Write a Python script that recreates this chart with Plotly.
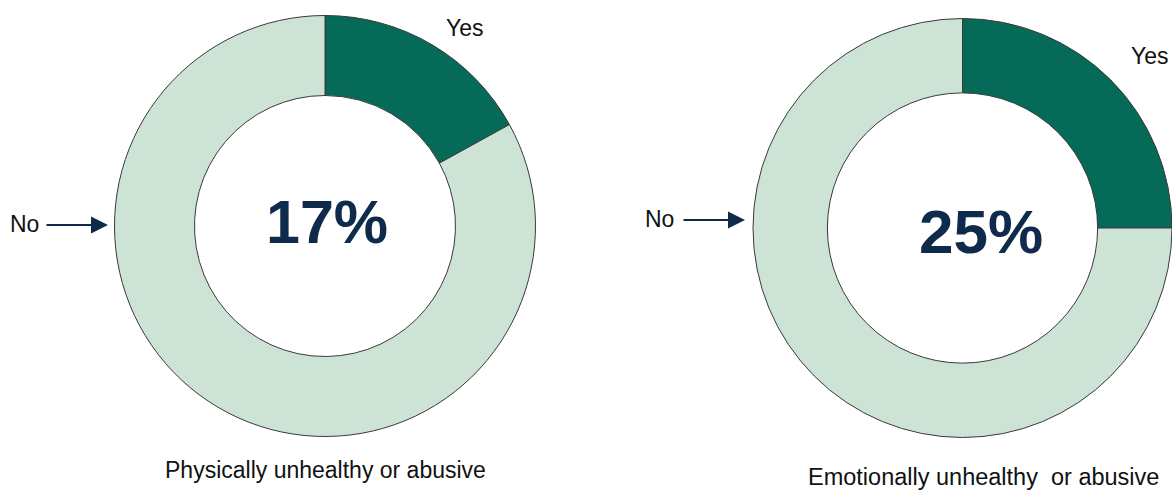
import plotly.graph_objects as go

W, H = 1172, 491

# Data
categories = ["Yes", "No"]
physical_values = [17, 83]
emotional_values = [25, 75]
chart_titles = ["Physically unhealthy or abusive", "Emotionally unhealthy  or abusive"]
center_labels = ["17%", "25%"]

DARK = "#066a58"
LIGHT = "#cce3d6"
NAVY = "#0f2b4c"
FONT = "Arial, Liberation Sans, sans-serif"


def px_x(x):
    return x / W


def px_y(y):
    return 1 - y / H


fig = go.Figure()

fig.add_trace(go.Pie(
    labels=categories, values=physical_values, sort=False, direction="clockwise",
    rotation=0, hole=0.62, textinfo="none", hoverinfo="label+percent",
    marker=dict(colors=[DARK, LIGHT], line=dict(color="#3a3a3a", width=1)),
    domain=dict(x=[(325 - 210.5) / W, (325 + 210.5) / W],
                y=[(265 - 210.5) / H, (265 + 210.5) / H]),
    showlegend=False,
))

fig.add_trace(go.Pie(
    labels=categories, values=emotional_values, sort=False, direction="clockwise",
    rotation=0, hole=0.645, textinfo="none", hoverinfo="label+percent",
    marker=dict(colors=[DARK, LIGHT], line=dict(color="#3a3a3a", width=1)),
    domain=dict(x=[753 / W, 1.0], y=[(263 - 214) / H, (263 + 214) / H]),
    showlegend=False,
))

annotations = [
    # center percentages
    dict(x=px_x(327), y=px_y(222), text=f"<b>{center_labels[0]}</b>",
         font=dict(size=61, color=NAVY, family=FONT)),
    dict(x=px_x(981), y=px_y(231), text=f"<b>{center_labels[1]}</b>",
         font=dict(size=62, color=NAVY, family=FONT)),
    # Yes labels
    dict(x=px_x(465), y=px_y(28), text=categories[0],
         font=dict(size=23, color="#111111", family=FONT)),
    dict(x=px_x(1171), y=px_y(56), text=categories[0], xanchor="right",
         font=dict(size=23, color="#111111", family=FONT)),
    # No labels
    dict(x=px_x(24.5), y=px_y(224), text=categories[1],
         font=dict(size=23, color="#111111", family=FONT)),
    dict(x=px_x(659), y=px_y(219), text=categories[1],
         font=dict(size=23, color="#111111", family=FONT)),
    # bottom titles
    dict(x=px_x(325), y=px_y(470), text=chart_titles[0],
         font=dict(size=23, color="#111111", family=FONT)),
    dict(x=px_x(984), y=px_y(477), text=chart_titles[1],
         font=dict(size=23.5, color="#111111", family=FONT)),
]
for a in annotations:
    a.update(xref="paper", yref="paper", showarrow=False,
             xanchor=a.get("xanchor", "center"), yanchor="middle")

# arrows
for (x0, x1, y) in [(45, 108, 225), (682, 745, 220)]:
    annotations.append(dict(
        x=px_x(x1), y=px_y(y), xref="paper", yref="paper",
        ax=x0 - x1, ay=0, text="", showarrow=True,
        arrowhead=2, arrowsize=1.7, arrowwidth=2, arrowcolor=NAVY,
    ))

fig.update_layout(
    width=W, height=H,
    margin=dict(l=0, r=0, t=0, b=0),
    paper_bgcolor="white", plot_bgcolor="white",
    annotations=annotations,
)

fig.write_html("out.html")
